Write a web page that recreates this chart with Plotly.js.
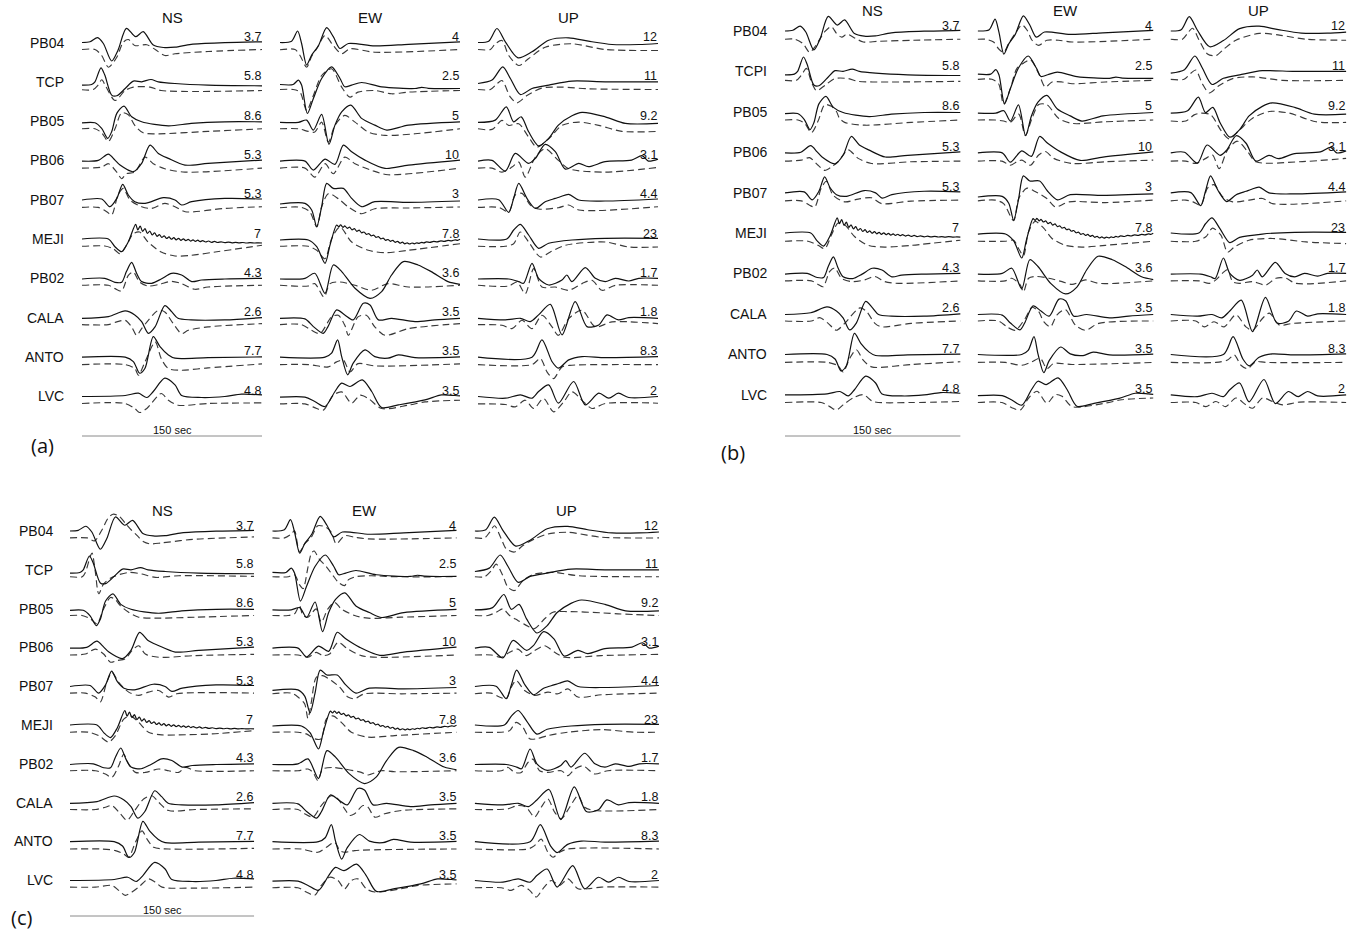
<!DOCTYPE html>
<html>
<head>
<meta charset="utf-8">
<script src="https://cdn.plot.ly/plotly-3.0.1.min.js"></script>
<style>
html, body { margin: 0; padding: 0; background: #fff; }
#chart { width: 1359px; height: 931px; }
</style>
</head>
<body>
<div id="chart"></div>
<script>
// Station order (top to bottom) and recorded components
const STATIONS   = ['PB04', 'TCP', 'PB05', 'PB06', 'PB07', 'MEJI', 'PB02', 'CALA', 'ANTO', 'LVC'];
const STATIONS_B = ['PB04', 'TCPI', 'PB05', 'PB06', 'PB07', 'MEJI', 'PB02', 'CALA', 'ANTO', 'LVC'];
const COMPONENTS = ['NS', 'EW', 'UP'];

// Peak amplitude printed at the end of each trace
const AMP_NS = ['3.7', '5.8', '8.6', '5.3', '5.3', '7', '4.3', '2.6', '7.7', '4.8'];
const AMP_EW = ['4', '2.5', '5', '10', '3', '7.8', '3.6', '3.5', '3.5', '3.5'];
const AMP_UP = ['12', '11', '9.2', '3.1', '4.4', '23', '1.7', '1.8', '8.3', '2'];

// Waveforms: [time (s) from window start, normalized displacement]
// Observed records (solid)
const OBS_NS = [
  [[0,0],[6.7,0.7],[13,4.8],[17.8,-1],[24.7,-18.5],[30,-7.7],[37,14.2],[44.7,5.8],[51,10.8],[59.4,-2.5],[67.8,-5],[77.5,-4.7],[91,-1.8],[119,-0.2],[150,0.7]],
  [[0,-3.3],[8,-2.7],[10.8,0],[15.8,14],[19,6.7],[24.7,-13.3],[29,-14],[36,-6.7],[42.8,0.7],[49.7,0],[57.5,2.3],[63.6,0],[77.5,-1.7],[105,-3.3],[150,-4]],
  [[0,-1.7],[10.8,-1.7],[16.4,-7.3],[21.4,-17.3],[24.7,-10.7],[29,7.7],[35,15],[41.4,4.3],[49.7,-0.7],[72,-4.7],[91,-2.3],[119,-0.7],[150,-0.7]],
  [[0,-0.7],[13.6,0],[21.9,6.3],[27.5,0.3],[31.7,-4.7],[42.8,-11.3],[49.7,-3],[56.7,15.3],[63.6,7],[72,2],[85.8,-4.7],[105,-3],[150,0.3]],
  [[0,-0.3],[16.4,0.7],[23.3,-7],[29,1.3],[33.9,15.3],[38.6,4.7],[44,-2],[52.5,-3.7],[67.8,2],[77.5,-0.3],[83,-5.3],[91.4,-2],[119,1.3],[150,0.7]],
  [[0,0],[22,0],[27.5,-7.7],[33,-12.7],[38.6,-2.7],[44.7,14.7],[46.5,9],[48.5,13],[50.5,7.5],[52.5,10.5],[54.5,5.5],[56.5,8],[58.5,4],[60.5,6.2],[62.5,2.6],[64.5,4.4],[66.5,1.5],[68.5,3.2],[70.5,0.5],[72.5,2.1],[74.5,-0.2],[76.5,1.3],[78.5,-0.8],[80.5,0.7],[82.5,-1.3],[84.5,0.2],[86.5,-1.7],[88.5,-0.3],[90.5,-2.1],[92.5,-0.8],[94.5,-2.4],[96.5,-1.2],[98.5,-2.6],[100.5,-1.6],[103,-3],[105.5,-2],[108,-3.3],[110.5,-2.4],[113,-3.5],[116,-2.8],[119,-3.7],[122,-3.1],[125,-3.8],[128,-3.3],[131,-3.9],[134,-3.5],[137,-4],[140,-3.6],[144,-4],[147,-3.8],[150,-4]],
  [[0,-0.7],[19,0],[27.5,-4],[33,-4],[37,6.7],[41.4,16],[45.5,5],[49.7,-3.3],[58,-5],[66,-0.7],[74.7,5],[83,3.3],[91.4,-3.3],[99.7,-1.7],[119,-0.7],[150,0]],
  [[0,-0.7],[22,1],[36,6.7],[44,2.7],[49.7,-4],[55.3,-15.7],[61,-9],[69,12],[74.7,6],[80,-0.7],[91,-2.3],[119,-2.3],[150,0]],
  [[0,-0.3],[36,-0.3],[42.8,-4.7],[48,-16.3],[52.5,-11.3],[59.4,20.3],[65,10.3],[72,2],[77.5,-1.3],[105,-0.7],[150,0]],
  [[0,-0.3],[36,0.7],[47,3],[54,-1.3],[59.4,4.7],[69,18],[77.5,11.3],[83,0.7],[99.7,-1.3],[119,-0.3],[133,2],[150,1.3]]
];
const OBS_EW = [
  [[0,0],[9.7,1.3],[14.7,11.5],[18,-1],[22.2,-22.5],[26.4,-12.5],[32,-3.3],[38.9,14.8],[44.4,5.8],[50,-6],[57,-1],[79,-3.3],[107,-1.8],[150,0.7]],
  [[0,-2.7],[11,-2.7],[15.3,1.7],[18,-3.3],[22.8,-31.7],[27.8,-16.7],[34.7,3.3],[43,15],[50,3.3],[54,-5],[59.7,-3.3],[68,-0.7],[84.7,-5],[112.5,-6.7],[118,-5.5],[123.6,-6.5],[150,-6.7]],
  [[0,-1.3],[15.3,-1.3],[22.2,1],[27.8,-9],[34.7,6.7],[40.8,-23.3],[45.8,-4],[51.4,9.3],[59,16],[68,2.7],[79,-4],[89,-9],[107,-4],[150,-0.7]],
  [[0,-0.7],[20.8,-0.7],[27.8,-9.7],[37.5,1.3],[45.8,-4],[52.8,15.3],[59.7,8.7],[70.8,0.3],[87.5,-8],[107,-4.7],[150,0.3]],
  [[0,-4.3],[20.8,-3.7],[26.4,-10.3],[30.6,-27],[34.7,-7],[38.9,16.3],[44.4,11.3],[52.8,11.3],[59.7,1.3],[68,-7],[79,-2],[107,-2.7],[150,-1.3]],
  [[0,-1],[23.6,-1],[30.6,-7.7],[37.5,-24.3],[41.7,-6],[47.2,14],[49,12.2],[50.5,14.2],[52.5,11.7],[54,13.2],[56,10.7],[58,11.8],[60,9.2],[62,10.3],[64,7.7],[66,8.8],[68,6.2],[70,7],[72,4.7],[74,5.4],[76,3.2],[78,3.9],[80,1.7],[82,2.4],[84,0.2],[86,0.9],[88,-1.3],[90,-0.5],[92,-2.3],[94,-1.4],[96,-3.3],[98,-2.3],[100,-4.2],[102,-3.2],[104,-4.8],[106,-3.8],[108,-5],[110,-4],[112,-4.8],[114,-3.8],[116,-4.4],[118,-3.3],[120,-3.9],[122,-2.8],[125,-3.4],[128,-2.3],[131,-2.9],[134,-1.8],[137,-2.4],[140,-1.3],[143,-1.8],[146,-0.8],[148,-1.3],[150,-0.3]],
  [[0,-0.7],[20.8,0],[29,5],[37.5,-15],[44.4,13.3],[51.4,6.7],[62.5,-10],[75,-20],[84.7,-13.3],[93,3.3],[102.8,16.7],[115,13.3],[126,6.7],[140,-3.3],[150,-6]],
  [[0,-0.7],[20.8,-1.3],[27.8,-9],[36,-15.7],[40,-9],[47.2,7.7],[54,2.7],[61,-2.3],[69.4,14.3],[75,12.7],[82,-2.3],[93,-0.7],[112.5,-4],[129,-2.3],[150,-0.7]],
  [[0,-0.3],[37.5,-0.3],[43,3.7],[48,17],[51.4,0.3],[56.4,-18],[61,-6.3],[70.8,7],[79,0.3],[90,-1.3],[98.6,2],[112.5,-0.7],[150,0]],
  [[0,-1],[20.8,-1],[29,-5.3],[37.5,-10.3],[45.8,4.7],[51.4,13],[58.3,9.7],[68.6,16.3],[76.4,4.7],[84.7,-11.3],[98.6,-8.7],[120.8,-3.7],[134.7,1.3],[145.8,0.7],[150,0.3]]
];
const OBS_UP = [
  [[0,0],[8.9,1.3],[15.8,14],[22.8,0.7],[33.3,-15.3],[45,-9.3],[58.9,2.3],[75.6,4.7],[92,1.3],[111.7,-2],[134,-2],[150,-1]],
  [[0,-1.7],[11.7,1.7],[20.6,15],[27,3.3],[35.3,-12.7],[45,-6.7],[59,-3.3],[78.3,0.7],[106,0],[150,0]],
  [[0,-1.3],[14.4,1],[23.6,14.3],[29.7,-0.7],[36,4.3],[42.2,-10.7],[50.5,-24.7],[58.9,-17.3],[67,-4],[78.3,5.3],[86.7,8.7],[106,4.3],[122.8,-2.3],[150,-2.3]],
  [[0,-0.7],[11.7,0],[22.8,-10.7],[31,7],[42.2,-3],[47.8,2],[56,16],[64.4,8.7],[72.8,-8.7],[84,-3],[92,-6.3],[106,-1.3],[128,0.3],[136.7,4.7],[142,-0.7],[150,1.3]],
  [[0,-0.3],[17.2,0],[25.6,-12.7],[29.7,1.3],[34,16.3],[40.8,1.3],[47.8,-8.7],[56,-2],[64.4,1.3],[68.6,3],[75.6,5.3],[84,-0.3],[106,-1.3],[150,0.7]],
  [[0,0],[24,0],[29.7,9],[35.3,14.7],[42.2,4],[50.5,-9.3],[58.9,-4.3],[78.3,-1],[106,0.7],[150,0.7]],
  [[0,-0.7],[25.6,-0.7],[34,-3.3],[38,-5],[45,15],[50.5,0],[58.9,-6.7],[70,-1.7],[74,3.3],[78.3,-3.3],[89.4,10.7],[97.8,0],[106,-3.3],[114.4,0],[125.6,-2.7],[134,0],[150,0]],
  [[0,-0.7],[22.8,-2.3],[35.3,-0.7],[43.6,-4],[50.5,2.7],[60.3,13.3],[70,-17.3],[81,16],[90.8,-9],[100.6,-7.3],[107.5,2.7],[117,-2.3],[125.6,0],[150,-0.7]],
  [[0,-0.3],[45,-0.3],[53.3,17],[61.7,-4.7],[67,-11.3],[75.6,-3],[86.7,0.3],[106,-0.7],[150,0.3]],
  [[0,-0.3],[22.8,-2],[35.3,1.3],[45,-2],[50.5,4.7],[58.9,11.3],[67,-7],[79.7,14.7],[89.4,-8.7],[100.6,3],[109,-2],[117,3],[125.6,-1.3],[150,-0.3]]
];

// Synthetic waveforms (dashed), model (a)
const SYN_A_NS = [
  [[0,0],[10.8,0],[16.4,-6],[22,-17.7],[29,-7.7],[34.4,7.3],[38.6,10],[44,4],[54,4.7],[61,0],[69,-6],[77.5,-4.3],[105,-2],[150,0]],
  [[0,-1],[9.4,-0.7],[13.6,4],[16.5,9],[20,2],[27.5,-11.7],[36,-1.7],[42.8,1.7],[56.7,1.7],[66,-1.7],[150,-1.7]],
  [[0,-0.7],[10.8,-0.7],[16.4,-4.7],[22,-13.3],[27.5,-0.7],[33,15.3],[38.6,13.3],[44,2.7],[51,-4.7],[63.6,-5.7],[105,-3.3],[150,-0.7]],
  [[0,-0.7],[16.4,0.3],[22,3.7],[29,-4.7],[33,-11.3],[37,-6.3],[44,-4.7],[52.5,10.3],[59.4,3.7],[69,-1.3],[85.8,-4.7],[150,-0.7]],
  [[0,-0.7],[13.6,-0.7],[20.6,-5],[24.7,-8.3],[30,11.7],[34.4,18.3],[40,6.7],[49.7,0],[58,-1.7],[69,3.3],[77.5,0],[86,-5],[119,-1.7],[150,0]],
  [[0,-0.3],[19,0],[26,-2.7],[31.7,-7.7],[37,0.7],[42.8,12.3],[48,14],[55,4],[66,-6],[77.5,-10],[91,-9.3],[111,-6],[150,0.7]],
  [[0,0],[22,0],[27.5,-3.3],[33,-5.7],[38.6,10],[42.8,13.3],[48,3.3],[55,-0.7],[63.6,0.7],[74.7,4],[83,1.7],[94,-4],[105,-1.7],[150,0]],
  [[0,0],[22,0],[29,2.7],[36,4.3],[41.4,-2.3],[45.5,-10.7],[49.7,-4],[63.6,14.3],[69,12.7],[76,1],[83,-9],[88.6,-5.7],[105,-2.3],[150,1]],
  [[0,-0.7],[36,-0.7],[44,-4.7],[47,-11.3],[52.5,2],[61,22],[66,5.3],[72,-4.7],[83,-6.3],[105,-4],[150,0]],
  [[0,-0.3],[36,-0.3],[44,-5.3],[48,-9.3],[54,-5.3],[66,9.7],[72,3],[80,-2],[105,-0.3],[150,0.3]]
];
const SYN_A_EW = [
  [[0,-0.3],[12.5,0],[16.7,-6],[22.2,-17.7],[26.4,-6.7],[30.6,0.7],[37.5,14],[44.4,4],[51.4,-4.3],[58.3,0.7],[79,-2.7],[150,0]],
  [[0,-0.7],[11,-0.7],[16.7,-3.3],[22.2,-21.7],[27.8,-6.7],[34.7,13.3],[43,20],[51.4,1.7],[58.3,-8.3],[65,-3.3],[79,-1.7],[93,-5],[107,-3.3],[150,-1.7]],
  [[0,-0.7],[15.3,-0.7],[23.6,-3.3],[29,-4],[34.7,6],[40.3,-14],[45.8,2.7],[54,12.7],[62.5,6],[73.6,-4],[87.5,-7.3],[112.5,-5.7],[150,-0.7]],
  [[0,-0.7],[20.8,-0.7],[29,-9.7],[37.5,3.7],[44.4,-6.3],[54,10.3],[62.5,3.7],[76.4,-3],[90,-7.3],[150,-0.7]],
  [[0,-1],[18,-0.7],[25,-5.3],[30.6,-20.3],[34.7,-0.3],[40.3,13],[48.6,8],[57,-0.3],[68,-7],[79,-2],[107,-1.3],[150,-0.3]],
  [[0,-0.3],[23.6,-0.3],[30.6,-4.3],[37.5,-12.7],[43,7.3],[50,19],[59.7,4],[73.6,-4.3],[87.5,-6.7],[107,-4.3],[150,2.3]],
  [[0,0],[23.6,-0.7],[29,1.7],[36.7,-11.7],[41.7,1.7],[50,3.3],[62.5,0],[76.4,-5],[90,1.7],[107,-1.7],[150,0]],
  [[0,0],[18,0],[26.4,-5.7],[33.3,-9],[43,7.7],[48.6,9.3],[54,-0.7],[57,-10.7],[65,7.7],[72,9.3],[79,-2.3],[87.5,-10.7],[107,-4],[150,1]],
  [[0,-0.7],[23.6,-0.7],[40.3,-3],[47.2,2],[52.8,3.7],[58.3,-8],[65,0.3],[79,-2],[150,0]],
  [[0,-0.7],[20.8,-0.7],[30.6,-5.3],[36,-7],[44.4,8],[51.4,11.3],[59.7,0],[66.7,8],[73.6,4.7],[84.7,-5.3],[107,-2],[120.8,1.3],[150,3]]
];
const SYN_A_UP = [
  [[0,0],[10.3,0],[14.4,5.7],[20,9],[25.6,-6],[34,-16],[42,-9.3],[56,2.3],[78,5.7],[106,0],[150,-1]],
  [[0,-0.7],[10.3,-0.7],[15.8,5],[20,8.3],[27,-8.3],[32.5,-14],[40.8,-6.7],[53,0.7],[70,1.7],[92,0],[150,-0.7]],
  [[0,-0.7],[11.7,-1.3],[20,7.7],[25.6,2.7],[34,4.3],[42.2,-9],[49,-19],[58.9,-10.7],[70,2.7],[83.9,6],[100.6,2.7],[120,-3.3],[150,-3.3]],
  [[0,-0.7],[11.7,-0.7],[20,-4.7],[28.3,0.3],[34,5.3],[39.4,-9.7],[47.8,10.3],[56,18.7],[67,7],[75.6,-1.3],[106,-4.7],[150,0]],
  [[0,-0.7],[17.2,-0.7],[25.6,-5],[31,11.7],[36.7,13.3],[43.6,1.7],[50.5,-2.3],[67,-1],[75.6,1.7],[84,-3.3],[150,0]],
  [[0,-0.3],[22.8,-0.3],[29.7,2.3],[35.3,14],[42.2,4],[52,-11],[60.3,-6],[72.8,0.7],[106,4],[125.6,-1],[150,-1]],
  [[0,0],[25.6,-0.7],[32.5,3.3],[39.4,-8.3],[46.4,16.7],[53.3,-1.7],[64.4,-1.7],[75.6,-5],[86.7,1.7],[95,5],[103.3,-5],[114.4,0],[150,0]],
  [[0,0],[20,-0.7],[28.3,-4],[36.7,4.3],[45,-4],[53.3,9.3],[61.7,-2.3],[67,-10.7],[75.6,6],[86.7,14.3],[97.8,-2.3],[111.7,2.7],[150,1]],
  [[0,-0.7],[45,-0.7],[52,5.3],[57.5,-8],[63,-14.7],[70,-3],[78.3,-1.3],[106,-0.7],[150,-0.7]],
  [[0,-0.7],[22.8,-1.3],[31,-3.7],[39.4,3],[46.4,-5.3],[54.7,4.7],[63,-8.7],[71.4,1.3],[78.3,11.3],[88,1.3],[95,-5.3],[106,-0.3],[150,0]]
];

// Synthetic waveforms (dashed), model (b)
const SYN_B_NS = [
  [[0,-1],[8.3,-1],[15.4,-5.3],[21,-13.7],[25.4,-8.7],[34,6.3],[39.7,11.3],[44,4.7],[48.5,1],[53,4],[60,0],[67,-3.7],[80,-3],[110,-2],[150,-1]],
  [[0,-1.7],[9.7,-1.7],[14,3.3],[18.3,10],[22.6,-3.3],[27,-11.7],[34,-6.7],[42.6,0],[54,0],[62.6,-2.7],[79.7,-3.3],[150,-2.7]],
  [[0,-1],[11.1,-1],[16.9,-4.3],[22.6,-13.3],[28.3,-2],[34,14],[39.7,12.3],[44,7.3],[46.5,1],[51,-3.3],[68,-6],[108,-3.3],[150,-1]],
  [[0,-1.7],[14,-0.7],[21,1.7],[28.3,-5.7],[34,-10.7],[39.7,-7.3],[45.4,-2.3],[54,9.3],[62.6,1],[74,-4],[108,-2.3],[150,-1.7]],
  [[0,-1],[14,-1],[21,-5.3],[25.4,-7],[31,11.3],[35.4,18],[41,4.7],[51,-2],[62.6,0.7],[74,2],[82.6,-3.7],[108,-1.3],[150,-0.3]],
  [[0,-1],[19.7,-1],[28.3,-5],[34,-8.3],[39.7,5],[45.4,16.7],[51,15],[59.7,3.3],[71,-5],[85.4,-6.7],[108,-5],[150,0]],
  [[0,-0.3],[22.6,-0.3],[28.3,-3.7],[32.6,-6],[38.3,9],[42.6,12.3],[48.3,2.3],[56.9,-1],[68.3,0.7],[76.9,4],[85.4,-1],[96.9,-2.7],[150,-0.3]],
  [[0,0],[22.6,0],[29.7,3.3],[36.9,-2.3],[44,-9],[51,-2.3],[64,12.7],[69.7,9.3],[76.9,-2.3],[82.6,-5.7],[108,-2.3],[150,0]],
  [[0,-1],[36.9,-1],[45.4,-4.3],[49.7,-10.3],[55.4,3],[61,11.3],[66.9,1.3],[74,-5.3],[108,-3],[150,-0.3]],
  [[0,-0.7],[31,-0.7],[38.3,-4.7],[44,-8],[49.7,-3],[58.3,3.7],[66.9,7],[75.4,0.3],[108,-0.7],[150,0.3]]
];
const SYN_B_EW = [
  [[0,-1],[6.3,-1],[13.4,-3.7],[17.7,-10.3],[22,-13.7],[26.3,-5.3],[32,4.7],[37.7,13],[42,8],[46.3,-2],[52,-7],[59,-2],[69,-2],[80.6,-3.7],[150,-1]],
  [[0,-0.7],[12,-0.7],[17.7,-5],[22,-25],[27.7,-10],[33.4,10],[39,15],[44.9,18.3],[52,5],[57.7,-8.3],[63.4,-3.3],[72,-3.3],[80.6,-5],[109,-3.3],[150,-1.7]],
  [[0,-1],[14.9,-1],[22,-2],[27.7,-3.3],[34.9,4.7],[40.6,-16],[46.3,0.7],[52,14],[59,14],[69,0.7],[80.6,-4.3],[109,-2.7],[150,-1]],
  [[0,-1.7],[20.6,-1.7],[27.7,-5.7],[33.4,-2.3],[37.7,-0.7],[44.9,-5.7],[52,4.3],[57.7,7.7],[64.9,1],[80.6,-4],[109,-2.3],[150,-0.7]],
  [[0,-1],[14.9,-0.3],[22,-3.7],[30.6,-20.3],[34.9,1.3],[42,11.3],[49,8],[59,1.3],[66.3,-7],[77.7,-2],[109,-2.7],[150,-0.3]],
  [[0,-1],[23.4,-1],[30.6,0],[34.9,-8.3],[39,-15],[43.4,8.3],[49,18.3],[56.3,11.7],[63.4,1.7],[74.9,-5],[89,-6.7],[109,-5],[150,-1]],
  [[0,-0.3],[23.4,-0.3],[29,2.3],[36.3,-4.3],[39,-11],[43.4,2.3],[50.6,4],[60.6,2.3],[72,-1],[80.6,-3.7],[92,0.7],[103.4,-2.7],[150,-0.3]],
  [[0,0],[17.7,0],[24.9,-5.7],[32,-9],[40.6,2.7],[46.3,13.3],[52,9.3],[56.3,-0.7],[62,-5.7],[67.7,6],[74.9,11],[83.4,-4],[92,-9],[103.4,-2.3],[150,0]],
  [[0,-1],[23.4,-1],[37.7,-3.7],[46.3,-0.3],[53.4,3],[59,-7],[64.9,-2],[80.6,-3],[150,-1]],
  [[0,-0.7],[20.6,-0.7],[29,-5.7],[36.3,-8],[43.4,3.7],[50.6,10.3],[59,-1.3],[66.3,7],[72,5.3],[80.6,-4.7],[109,-1.3],[123,2],[150,3.7]]
];
const SYN_B_UP = [
  [[0,-1],[10,-1],[14.3,4.7],[18.6,9.7],[24.3,-2],[31.4,-15.3],[38.6,-17],[45.7,-10.3],[55.7,-2],[75.7,4.7],[92.9,3],[115.7,-1],[150,-2]],
  [[0,-0.7],[11.4,-0.7],[17,5],[21.4,8.3],[27,-5],[32.9,-14],[41.4,-6.7],[52.9,0],[70,1.7],[95.7,-1.7],[150,-1.7]],
  [[0,-2],[12.9,-2],[20,4],[25.7,5.7],[34.3,4],[42.9,-11],[50,-19.3],[58.6,-11],[70,0.7],[84.3,7.3],[101.4,5.7],[124.3,-2.7],[150,-3.3]],
  [[0,-1.7],[12.9,-1.7],[21.4,-4],[30,1],[35.7,4.3],[41.4,-9],[48.6,9.3],[57,17.7],[65.7,7.7],[72.9,-2.3],[110,-2.3],[150,1]],
  [[0,-1],[12.9,-0.3],[19,-2],[25.7,-5.3],[31.4,11.3],[37,14.7],[44.3,3],[52.9,-2],[67,-0.3],[78.6,1.3],[87,-3.7],[150,-1]],
  [[0,-1],[21.4,-1],[30,3.3],[35.7,11.7],[42.9,5],[48.6,-11.7],[54.3,-6.7],[67,0],[87,1.7],[115.7,-1.7],[150,-3.3]],
  [[0,-0.3],[24.3,-0.3],[32.9,-2.7],[38.6,0.7],[44.3,7.3],[48.6,10.7],[52.9,-1],[58.6,-2.7],[70,-1],[81.4,-4.3],[90,2.3],[98.6,2.3],[107,-2.7],[150,-0.3]],
  [[0,0],[21.4,0],[28.6,-5.7],[37,-0.7],[45.7,-5.7],[55.7,6],[64.3,-5.7],[70,-9],[78.6,2.7],[84.3,7.7],[92.9,-4],[104.3,-2.3],[150,0]],
  [[0,-1],[38.6,-1],[48.6,1.3],[54.3,6.3],[60,-3.7],[65.7,-7],[72.9,-0.3],[81.4,-1],[150,-1]],
  [[0,-0.7],[21.4,-0.7],[30,-4.7],[38.6,0.3],[47,-4.7],[55.7,3.7],[64.3,-3],[70,-6.3],[78.6,3.7],[87,0.3],[95.7,-3],[110,-0.3],[150,-0.7]]
];

// Synthetic waveforms (dashed), model (c)
const SYN_C_NS = [
  [[0,0],[14,0],[20,-3],[26,8],[31,20],[35,24],[40,22],[45,15],[50,8],[55,2],[60,-4],[65,-6],[75,-5],[100,-1.5],[150,1]],
  [[0,0],[10,0],[12.5,4.3],[16.6,21],[18,24],[20.7,4.3],[23.4,-17.3],[27.4,-7.3],[34,-0.7],[47.8,4.3],[58.7,2.7],[69.6,-0.7],[88.6,1],[150,0.3]],
  [[0,0],[9.8,0],[16.6,-3.3],[22,-8.3],[27.4,6.7],[33,18.3],[37,16],[41,10],[47.8,3.3],[56,-1.7],[69.6,-2.7],[102,-1.7],[150,0]],
  [[0,-0.7],[12.5,0.3],[20.7,5.3],[27.4,0.3],[33,-8],[38.3,-6.3],[45,-4.7],[50.5,3.7],[56,8.7],[61.4,0.3],[72.3,-3],[102,-1.3],[150,0]],
  [[0,0],[12.5,0],[20.7,-4],[24.7,-9],[30,11],[34.2,21],[39.7,11],[47.8,1],[56,-2.3],[64,1],[72.3,2.7],[80.4,-4],[87,-0.7],[150,0]],
  [[0,-0.3],[15.2,-0.3],[23.4,-3.7],[31.5,-10.3],[37,-3.7],[43.8,13],[49.2,16.3],[56,9.7],[64,-0.3],[75,-3],[88.6,-3],[115.8,-2],[150,1.3]],
  [[0,0],[20.7,0],[28.8,-3.3],[34.2,-6.7],[39.7,5],[43.8,16.7],[47.8,6.7],[53.3,-1.7],[61.4,-1.7],[72.3,1.7],[80.4,0],[88.6,-1.7],[94,3.3],[102,0],[150,0]],
  [[0,0],[20.7,0],[28.8,2.3],[34.2,4],[41,-4.3],[46.5,-11],[51.9,-2.7],[60,10.7],[66.8,14],[72.3,7.3],[80.4,-1],[102,0],[150,0.7]],
  [[0,-0.7],[26,-0.7],[37,-2.3],[43.8,-5.7],[47.8,-9],[53.3,6],[58.7,17.7],[62.8,9.3],[68.2,1],[80.4,-0.7],[150,0]],
  [[0,0],[20.7,0],[34.2,1.7],[39.7,-3.3],[45,-8.3],[50.5,-5],[56,0],[64,8.3],[69.6,5],[75,0],[102,-1],[150,0]]
];
const SYN_C_EW = [
  [[0,0],[9.9,0],[15.4,4],[18,7.3],[22,-14.3],[26.2,-6],[31.7,0.7],[37,12.3],[43.9,10.7],[48,5.7],[52,-6],[58.8,2.3],[67,0.7],[77.9,-1],[150,0]],
  [[0,0],[13,0],[18,2],[22,-8],[25,-12],[29,10],[31.8,24],[34,26],[38,18],[44,10],[50,0],[54,-6],[58.8,-9],[62,-3],[68,0],[80,1],[100,0],[150,0]],
  [[0,0],[12.6,0],[18,1.7],[22,10],[24.9,0],[29,-1.7],[35.7,6.7],[39.8,-6.7],[45.2,6.7],[50.7,13.3],[56.1,6.7],[67,0],[77.9,-2.7],[105,-1.7],[150,0]],
  [[0,-0.7],[20.8,-0.7],[29,-3],[35.7,2],[41,-1.3],[46.6,0.3],[53.4,12],[61.5,5.3],[72.4,-1.3],[86,-3],[150,-0.7]],
  [[0,-0.7],[15.4,0],[20.8,-4],[26.2,-10.7],[28.9,-25.7],[31.7,-9],[35.7,16],[41,17.7],[48,12.7],[54.8,6],[61.5,-4],[67,-5.7],[75,-0.7],[105,-0.7],[150,0]],
  [[0,-0.3],[20.8,-0.3],[27.6,-2],[34.4,-7],[39.8,-7],[43.9,13],[49.3,16.3],[56.1,9.7],[64.3,-0.3],[77.9,-5.3],[99.6,-3.7],[150,-0.3]],
  [[0,0],[20.8,0],[29,1.7],[33,-1.7],[37,-10],[41,1.7],[49.3,3.3],[58.8,1.7],[72.4,-1.7],[77.9,-4.3],[88.7,0],[99.6,-1],[150,0]],
  [[0,0],[20.8,0],[26.2,-4.3],[33,-7.7],[39.8,4],[48,14],[53.4,10.7],[58.8,0.7],[63,-6],[67,-4.3],[73.8,4],[77.9,2.3],[83.3,-7.7],[91.4,-4.3],[105,-1],[150,0.7]],
  [[0,-0.7],[23.5,-0.7],[37,-4],[43.9,1],[50.7,6],[55,-2.3],[58.8,-4],[67,-2.3],[150,-0.7]],
  [[0,-0.7],[20.8,-0.7],[27.6,-5],[34.4,-8.3],[39.8,1.7],[46.6,10],[53.4,6.7],[58.8,-1.7],[64.3,6.7],[69.7,8.3],[76.5,-1.7],[83.3,-5],[105,-1.7],[118.6,1.7],[150,3.3]]
];
const SYN_C_UP = [
  [[0,0],[7.9,0],[12,5.7],[16,12.3],[21.5,-1],[25.5,-11],[32.3,-14.3],[39.1,-7.7],[48.6,-1],[59.5,4],[75.8,5.7],[103,0.7],[150,0]],
  [[0,0],[7.9,0],[13.3,6],[17.4,12.7],[22.8,1],[26.9,-10.7],[32.3,-14],[39.1,-4],[48.6,2.7],[65,4.3],[84,1],[150,0]],
  [[0,0],[10.6,0],[17.4,3.3],[22.8,6.7],[28.3,0],[35,-5],[41.8,-10],[48.6,-13.3],[56.8,-3.3],[63.6,3.3],[75.8,4],[103,2.7],[116.6,1.7],[150,0]],
  [[0,-0.7],[13.3,-0.7],[21.5,-3],[28.3,2],[35,5.3],[41.8,-1.3],[48.6,3.7],[56.8,8.7],[65,2],[73,-3],[103,-1.3],[150,0]],
  [[0,-0.7],[13.3,0],[20,-4],[25.5,-5.7],[29.6,6],[33.7,12.7],[40.5,2.7],[48.6,-2.3],[59.5,1],[67.7,-0.7],[75.8,4.3],[84,-4],[103,-1.7],[150,0]],
  [[0,-0.3],[21.5,-0.3],[28.3,1.3],[33.7,9.7],[39.1,4.7],[44.6,-7],[50,-7],[59.5,-3.7],[75.8,-0.3],[103,2.3],[130,-0.3],[150,-0.3]],
  [[0,0],[21.5,0],[27,3.3],[32.3,-1.7],[37.8,-1.7],[43.2,8.3],[47.3,11.7],[52.7,0],[59.5,-1.7],[70.4,0],[75.8,-5],[81.3,1.7],[88,5],[97.6,-3.3],[108.4,0],[150,0]],
  [[0,0],[18.8,0],[27,0.7],[35,4],[41.8,2.3],[48.6,-7.7],[54,2.3],[59.5,10.7],[65,-2.7],[70.4,-9.3],[77.2,2.3],[84,14],[89.4,2.3],[97.6,-1],[150,0]],
  [[0,-0.7],[43.2,-0.7],[48.6,2.7],[54,9.3],[59.5,-4],[63.6,-9],[69,-4],[75.8,-0.7],[150,-0.7]],
  [[0,-0.7],[21.5,-0.7],[29.6,-3.3],[37.8,1.7],[44.6,-3.3],[50,-10],[55.4,-1.7],[62.2,6.7],[69,1.7],[75.8,8.3],[84,-1.7],[92,-1.7],[103,0],[150,0]]
];

// ---------------------------------------------------------------------------
// Drawing
// ---------------------------------------------------------------------------
const W = 1359, H = 931;
const UNIT = 39.3;          // displacement units per row height
const DASH_SHIFT = -7;      // synthetic baseline sits a little below the record
const COL_START = [0, 165, 330];   // start of the NS / EW / UP windows (s)
const WINDOW = 150;                // window length (s)
const OBS = [OBS_NS, OBS_EW, OBS_UP];
const AMPS = [AMP_NS, AMP_EW, AMP_UP];
const TEXT_FONT = 'Arial, Liberation Sans, Helvetica, sans-serif';

// Geometry of the three panels (pixels)
const PANELS = [
  { tag: '(a)', names: STATIONS,   syn: [SYN_A_NS, SYN_A_EW, SYN_A_UP],
    x0: 82,  k: 1.2,   b0: 42.5, s: 39.3, box: [0, 700, 0, 470],
    labelRight: 65,  headBottom: 27, barY: 436, tagX: 43,  tagY: 445 },
  { tag: '(b)', names: STATIONS_B, syn: [SYN_B_NS, SYN_B_EW, SYN_B_UP],
    x0: 785, k: 1.169, b0: 31,   s: 40.4, box: [700, 1359, 0, 470],
    labelRight: 768, headBottom: 20, barY: 436, tagX: 733, tagY: 452 },
  { tag: '(c)', names: STATIONS,   syn: [SYN_C_NS, SYN_C_EW, SYN_C_UP],
    x0: 70,  k: 1.227, b0: 531,  s: 38.8, box: [0, 700, 470, 931],
    labelRight: 54,  headBottom: 520, barY: 916, tagX: 21,  tagY: 917 }
];

const data = [];
const annotations = [];
const layout = {
  width: W, height: H, autosize: false,
  margin: { l: 0, r: 0, t: 0, b: 0 },
  paper_bgcolor: '#fff', plot_bgcolor: '#fff',
  showlegend: false,
  annotations: annotations
};

function appendTrace(xs, ys, knots, col, row, shift) {
  knots.forEach(([t, v]) => {
    xs.push(COL_START[col] + t);
    ys.push(-row + (v + shift) / UNIT);
  });
  xs.push(null); ys.push(null);
}

PANELS.forEach((p, n) => {
  const sfx = n === 0 ? '' : String(n + 1);
  const xa = 'x' + sfx, ya = 'y' + sfx;
  const pxY = py => -(py - p.b0) / p.s;
  const pxX = px => (px - p.x0) / p.k;

  layout['xaxis' + sfx] = {
    domain: [p.box[0] / W, p.box[1] / W],
    range: [pxX(p.box[0]), pxX(p.box[1])],
    visible: false, fixedrange: true, anchor: ya
  };
  layout['yaxis' + sfx] = {
    domain: [1 - p.box[3] / H, 1 - p.box[2] / H],
    range: [pxY(p.box[3]), pxY(p.box[2])],
    visible: false, fixedrange: true, anchor: xa
  };

  const ox = [], oy = [], sx = [], sy = [];
  for (let c = 0; c < 3; c++) {
    for (let r = 0; r < STATIONS.length; r++) {
      appendTrace(ox, oy, OBS[c][r], c, r, 0);
      appendTrace(sx, sy, p.syn[c][r], c, r, DASH_SHIFT);
      annotations.push({
        xref: xa, yref: ya, x: COL_START[c] + WINDOW, y: pxY(p.b0 + p.s * r + 2.5),
        text: AMPS[c][r], showarrow: false, xanchor: 'right', yanchor: 'bottom',
        borderpad: 0, font: { family: TEXT_FONT, size: 12.5, color: '#111' }
      });
    }
    annotations.push({
      xref: xa, yref: ya, x: COL_START[c] + WINDOW / 2, y: pxY(p.headBottom),
      text: COMPONENTS[c], showarrow: false, xanchor: 'center', yanchor: 'bottom',
      borderpad: 0, font: { family: TEXT_FONT, size: 15, color: '#111' }
    });
  }

  data.push({
    type: 'scatter', mode: 'lines', x: sx, y: sy, xaxis: xa, yaxis: ya,
    hoverinfo: 'skip', connectgaps: false,
    line: { color: '#3a3a3a', width: 1.15, dash: '7px,4px', shape: 'spline', smoothing: 0.8 }
  });
  data.push({
    type: 'scatter', mode: 'lines', x: ox, y: oy, xaxis: xa, yaxis: ya,
    hoverinfo: 'skip', connectgaps: false,
    line: { color: '#111', width: 1.2, shape: 'spline', smoothing: 0.8 }
  });

  // Time scale bar under the NS column
  data.push({
    type: 'scatter', mode: 'lines', x: [0, WINDOW], y: [pxY(p.barY), pxY(p.barY)],
    xaxis: xa, yaxis: ya, hoverinfo: 'skip',
    line: { color: '#8a8a8a', width: 1 }
  });
  annotations.push({
    xref: xa, yref: ya, x: WINDOW / 2, y: pxY(p.barY + 1),
    text: '150 sec', showarrow: false, xanchor: 'center', yanchor: 'bottom',
    borderpad: 0, font: { family: TEXT_FONT, size: 11, color: '#111' }
  });

  // Station names
  p.names.forEach((name, r) => {
    annotations.push({
      xref: xa, yref: ya, x: pxX(p.labelRight), y: -r,
      text: name, showarrow: false, xanchor: 'right', yanchor: 'middle',
      borderpad: 0, font: { family: TEXT_FONT, size: 14, color: '#111' }
    });
  });

  // Panel tag
  annotations.push({
    xref: 'paper', yref: 'paper', x: p.tagX / W, y: 1 - p.tagY / H,
    text: p.tag, showarrow: false, xanchor: 'center', yanchor: 'middle',
    font: { family: 'Open Sans, Lato, sans-serif', size: 20, color: '#111' }
  });
});

Plotly.newPlot('chart', data, layout, { staticPlot: true, displayModeBar: false });
</script>
</body>
</html>
